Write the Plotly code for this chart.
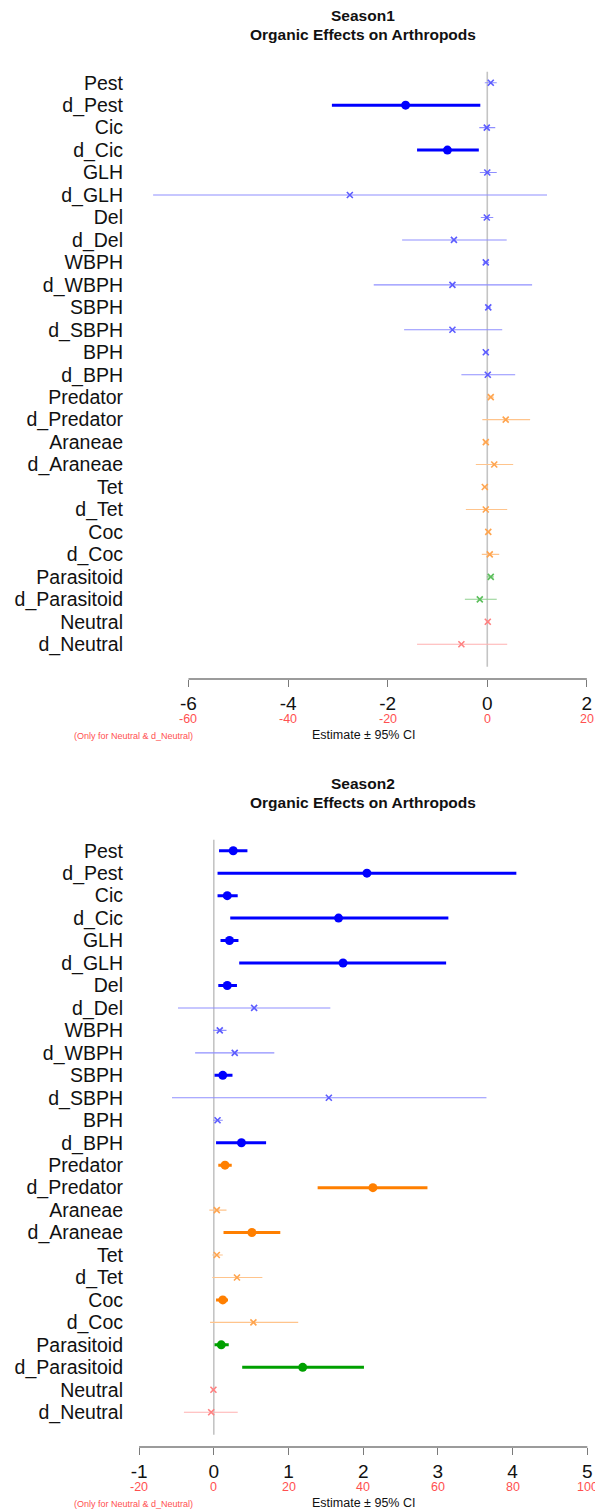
import plotly.graph_objects as go

# Row labels (top to bottom) and their colour group
labels = ["Pest", "d_Pest", "Cic", "d_Cic", "GLH", "d_GLH", "Del", "d_Del",
          "WBPH", "d_WBPH", "SBPH", "d_SBPH", "BPH", "d_BPH",
          "Predator", "d_Predator", "Araneae", "d_Araneae", "Tet", "d_Tet",
          "Coc", "d_Coc", "Parasitoid", "d_Parasitoid", "Neutral", "d_Neutral"]
groups = (["Pest"] * 14 + ["Predator"] * 8 + ["Parasitoid"] * 2 + ["Neutral"] * 2)

# Season 1 estimates and 95% CI (Neutral rows are on the secondary, red scale)
s1_est = [0.07, -1.64, -0.01, -0.80, 0.00, -2.76, -0.01, -0.67,
          -0.03, -0.70, 0.02, -0.70, -0.03, 0.01,
          0.07, 0.37, -0.03, 0.14, -0.05, -0.03,
          0.02, 0.05, 0.07, -0.15, 0.1, -5.2]
s1_lo = [-0.05, -3.12, -0.16, -1.41, -0.15, -6.71, -0.13, -1.71,
         -0.08, -2.28, -0.03, -1.67, -0.07, -0.52,
         -0.02, -0.10, -0.08, -0.23, -0.09, -0.43,
         -0.02, -0.11, -0.01, -0.45, -0.3, -14.1]
s1_hi = [0.19, -0.14, 0.16, -0.17, 0.19, 1.20, 0.12, 0.39,
         0.03, 0.90, 0.07, 0.30, 0.02, 0.56,
         0.13, 0.86, 0.03, 0.52, 0.01, 0.40,
         0.06, 0.24, 0.13, 0.19, 0.5, 4.0]

# Season 2 estimates and 95% CI
s2_est = [0.26, 2.05, 0.18, 1.67, 0.21, 1.73, 0.18, 0.54,
          0.08, 0.28, 0.12, 1.54, 0.05, 0.37,
          0.15, 2.13, 0.04, 0.51, 0.04, 0.31,
          0.12, 0.53, 0.10, 1.19, -0.1, -0.7]
s2_lo = [0.07, 0.05, 0.05, 0.22, 0.09, 0.34, 0.06, -0.48,
         -0.01, -0.25, 0.01, -0.56, -0.01, 0.03,
         0.06, 1.39, -0.06, 0.13, -0.02, -0.02,
         0.03, -0.05, 0.01, 0.38, -0.6, -8.0]
s2_hi = [0.45, 4.05, 0.32, 3.14, 0.33, 3.11, 0.31, 1.56,
         0.17, 0.81, 0.25, 3.65, 0.12, 0.70,
         0.24, 2.86, 0.17, 0.89, 0.12, 0.65,
         0.19, 1.13, 0.20, 2.01, 0.4, 6.4]

# Axis ticks (black main scale, red secondary scale for Neutral rows)
s1_ticks = [-6, -4, -2, 0, 2]
s1_red_ticks = [-60, -40, -20, 0, 20]
s1_red_factor = 10
s2_ticks = [-1, 0, 1, 2, 3, 4, 5]
s2_red_ticks = [-20, 0, 20, 40, 60, 80, 100]
s2_red_factor = 20

FONT = "Liberation Sans, Arial, sans-serif"
W, H = 595, 1511

solid = {"Pest": "rgb(0,0,255)", "Predator": "rgb(255,127,0)",
         "Parasitoid": "rgb(0,160,0)", "Neutral": "rgb(255,0,0)"}
pale_line = {"Pest": "#8f8fff", "Predator": "#ffc48c",
             "Parasitoid": "#8fd08f", "Neutral": "#ffb0b0"}
pale_mark = {"Pest": "#5c5cff", "Predator": "#ffa54f",
             "Parasitoid": "#5cbf5c", "Neutral": "#ff8080"}


def py(px):
    """pixel row from top -> paper y"""
    return 1 - px / H


fig = go.Figure()

panels = [
    dict(name="Season1", est=s1_est, lo=s1_lo, hi=s1_hi, ticks=s1_ticks,
         red=s1_red_ticks, fac=s1_red_factor, xr=[-7.353, 2.163], off=0),
    dict(name="Season2", est=s2_est, lo=s2_lo, hi=s2_hi, ticks=s2_ticks,
         red=s2_red_ticks, fac=s2_red_factor, xr=[-1.241, 5.103], off=768),
]

x_dom = [121.1 / W, 1.0]
n = len(labels)
for k, p in enumerate(panels):
    sfx = "" if k == 0 else str(k + 1)
    xa, ya = "x" + sfx, "y" + sfx
    off = p["off"]
    top_px, bot_px, axis_px = 71.7 + off, 666.7 + off, 679 + off

    # zero reference line over the full plot height (beneath the data)
    fig.add_shape(type="line", xref=xa, yref=ya + " domain", x0=0, x1=0, y0=0, y1=1,
                  line=dict(color="#c4c4c4", width=1.6), layer="below")

    for i, lab in enumerate(labels):
        g = groups[i]
        fac = p["fac"] if g == "Neutral" else 1
        e, lo, hi = p["est"][i] / fac, p["lo"][i] / fac, p["hi"][i] / fac
        sig = lo > 0 or hi < 0
        if sig:
            ln = dict(color=solid[g], width=3)
            mk = dict(symbol="circle", size=9, color=solid[g])
        else:
            ln = dict(color=pale_line[g], width=1.1)
            mk = dict(symbol="x-thin-open", size=6, color=pale_mark[g],
                      line=dict(width=1.6, color=pale_mark[g]))
        fig.add_trace(go.Scatter(x=[lo, hi], y=[lab, lab], mode="lines", line=ln,
                                 xaxis=xa, yaxis=ya, showlegend=False,
                                 hoverinfo="skip"))
        fig.add_trace(go.Scatter(x=[e], y=[lab], mode="markers", marker=mk,
                                 xaxis=xa, yaxis=ya, showlegend=False,
                                 hoverinfo="skip"))

    fig.layout["xaxis" + sfx] = dict(
        domain=x_dom, range=p["xr"], anchor="free", position=py(axis_px),
        showgrid=False, zeroline=False, showline=False,
        tickmode="array", tickvals=p["ticks"], ticktext=[str(t) for t in p["ticks"]],
        ticks="outside", ticklen=7, tickwidth=1.3, tickcolor="#7a7a7a",
        tickfont=dict(family=FONT, size=19, color="#111"),
    )
    fig.layout["yaxis" + sfx] = dict(
        domain=[py(bot_px), py(top_px)], type="category", categoryarray=labels,
        categoryorder="array", range=[n, -0.49], autorange=False,
        tickmode="array", tickvals=labels, ticktext=labels,
        anchor="free", position=123.0 / W,
        showgrid=False, zeroline=False, showline=False, ticks="",
        tickfont=dict(family=FONT, size=19.5, color="#111"),
    )

    # axis line spanning the tick range
    fig.add_shape(type="line", xref=xa, yref="paper", x0=min(p["ticks"]),
                  x1=max(p["ticks"]), y0=py(axis_px), y1=py(axis_px),
                  line=dict(color="#7a7a7a", width=1.3))
    # secondary red tick labels
    for r in p["red"]:
        fig.add_annotation(x=r / p["fac"], xref=xa, y=py(719 + off), yref="paper",
                           text=str(r), showarrow=False, xanchor="center",
                           yanchor="middle",
                           font=dict(family=FONT, size=12.5, color="#ff5050"))
    fig.add_annotation(x=133 / W, xref="paper", y=py(736 + off), yref="paper",
                       text="(Only for Neutral & d_Neutral)", showarrow=False,
                       xanchor="center", yanchor="middle",
                       font=dict(family=FONT, size=9, color="#ff5050"))
    fig.add_annotation(x=363 / W, xref="paper", y=py(735 + off), yref="paper",
                       text="Estimate ± 95% CI", showarrow=False,
                       xanchor="center", yanchor="middle",
                       font=dict(family=FONT, size=12.5, color="#111"))
    # titles
    fig.add_annotation(x=363 / W, xref="paper", y=py(15 + off), yref="paper",
                       text="<b>" + p["name"] + "</b>", showarrow=False,
                       xanchor="center", yanchor="middle",
                       font=dict(family=FONT, size=15.5, color="#111"))
    fig.add_annotation(x=363 / W, xref="paper", y=py(35 + off), yref="paper",
                       text="<b>Organic Effects on Arthropods</b>", showarrow=False,
                       xanchor="center", yanchor="middle",
                       font=dict(family=FONT, size=15.5, color="#111"))

fig.update_layout(width=W, height=H, margin=dict(l=0, r=0, t=0, b=0),
                  paper_bgcolor="white", plot_bgcolor="white")

fig.write_html("out.html")
